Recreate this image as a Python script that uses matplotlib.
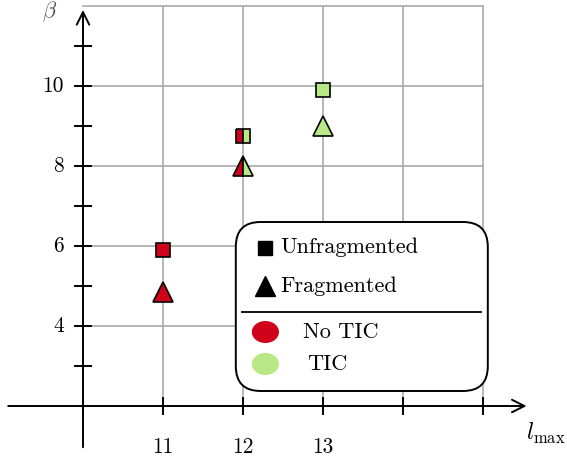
import matplotlib

matplotlib.use("Agg")
import matplotlib.pyplot as plt
from matplotlib.patches import FancyBboxPatch, Ellipse

plt.rcParams["font.family"] = "serif"
plt.rcParams["font.serif"] = ["cmr10"]
plt.rcParams["mathtext.fontset"] = "cm"
plt.rcParams["axes.unicode_minus"] = False

# data
l_max = [11, 12, 13]
beta_unfragmented = [5.9, 8.75, 9.9]
beta_fragmented = [4.85, 8.0, 9.0]
tic_status = ["No TIC", "mixed", "TIC"]

x_tick_labels = [11, 12, 13]
y_tick_labels = [4, 6, 8, 10]
x_grid = [11, 12, 13, 14, 15]
y_grid = [4, 6, 8, 10, 12]
x_ticks = [10, 11, 12, 13, 14, 15]
y_ticks = [3, 4, 5, 6, 7, 8, 9, 10, 11]

shape_labels = ["Unfragmented", "Fragmented"]
color_labels = ["No TIC", "TIC"]

RED = "#d0021b"
GREEN = "#b8e986"
GRID = "#aaaaaa"

fig = plt.figure(figsize=(5.67, 4.62), dpi=100)
ax = fig.add_axes([0, 0, 1, 1])
ax.set_xlim(8.9625, 16.05)
ax.set_ylim(0.6, 12.15)
ax.axis("off")

# grid
for gx in x_grid:
    ax.plot([gx, gx], [2, 12], color=GRID, lw=1.2, zorder=1)
for gy in y_grid:
    ax.plot([10, 15], [gy, gy], color=GRID, lw=1.2, zorder=1)

# axes with arrows
arrow = dict(arrowstyle="->,head_length=0.9,head_width=0.45", color="black", lw=1.4)
ax.annotate("", xy=(15.58, 2), xytext=(9.03, 2), arrowprops=arrow, zorder=3)
ax.annotate("", xy=(10, 11.97), xytext=(10, 0.9), arrowprops=arrow, zorder=3)

for tx in x_ticks:
    ax.plot([tx, tx], [1.8, 2.2], color="black", lw=1.4, zorder=3)
for ty in y_ticks:
    ax.plot([9.9, 10.1], [ty, ty], color="black", lw=1.4, zorder=3)

for lab in x_tick_labels:
    ax.text(lab, 0.98, str(lab), ha="center", va="center", fontsize=15.5)
for lab in y_tick_labels:
    ax.text(9.76, lab, str(lab), ha="right", va="center", fontsize=15.5)

ax.text(9.58, 11.85, r"$\beta$", ha="center", va="center", fontsize=16, color="#555555")
ax.text(15.78, 1.32, r"$l_{\max}$", ha="center", va="center", fontsize=17)


def style(status):
    if status == "No TIC":
        return dict(markerfacecolor=RED, fillstyle="full")
    if status == "TIC":
        return dict(markerfacecolor=GREEN, fillstyle="full")
    return dict(markerfacecolor=RED, markerfacecoloralt=GREEN, fillstyle="left")


for x, yu, yf, st in zip(l_max, beta_unfragmented, beta_fragmented, tic_status):
    ax.plot(x, yu, marker="s", markersize=9.5, markeredgecolor="black",
            markeredgewidth=1.2, linestyle="none", zorder=5, **style(st))
    ax.plot(x, yf, marker="^", markersize=14, markeredgecolor="black",
            markeredgewidth=1.2, linestyle="none", zorder=5, **style(st))

# custom legend
box = FancyBboxPatch((11.91, 2.375), 3.15, 4.225,
                     boxstyle="round,pad=0,rounding_size=0.31",
                     mutation_aspect=2, facecolor="white",
                     edgecolor="black", lw=1.4, zorder=6)
ax.add_patch(box)

ax.plot(12.27, 5.95, marker="s", markersize=9.5, color="black", zorder=7)
ax.plot(12.27, 5.0, marker="^", markersize=14, color="black", zorder=7)
ax.text(12.47, 5.98, shape_labels[0], ha="left", va="center", fontsize=16, zorder=7)
ax.text(12.47, 5.0, shape_labels[1], ha="left", va="center", fontsize=16, zorder=7)
ax.plot([11.99, 14.98], [4.35, 4.35], color="black", lw=1.3, zorder=7)

for yy, col, lab, dx in zip([3.85, 3.05], [RED, GREEN], color_labels, [12.75, 12.80]):
    ax.add_patch(Ellipse((12.28, yy), 0.34, 0.55, facecolor=col, edgecolor="none", zorder=7))
    ax.text(dx, yy, lab, ha="left", va="center", fontsize=16, zorder=7)

fig.savefig("out.png", dpi=100)
